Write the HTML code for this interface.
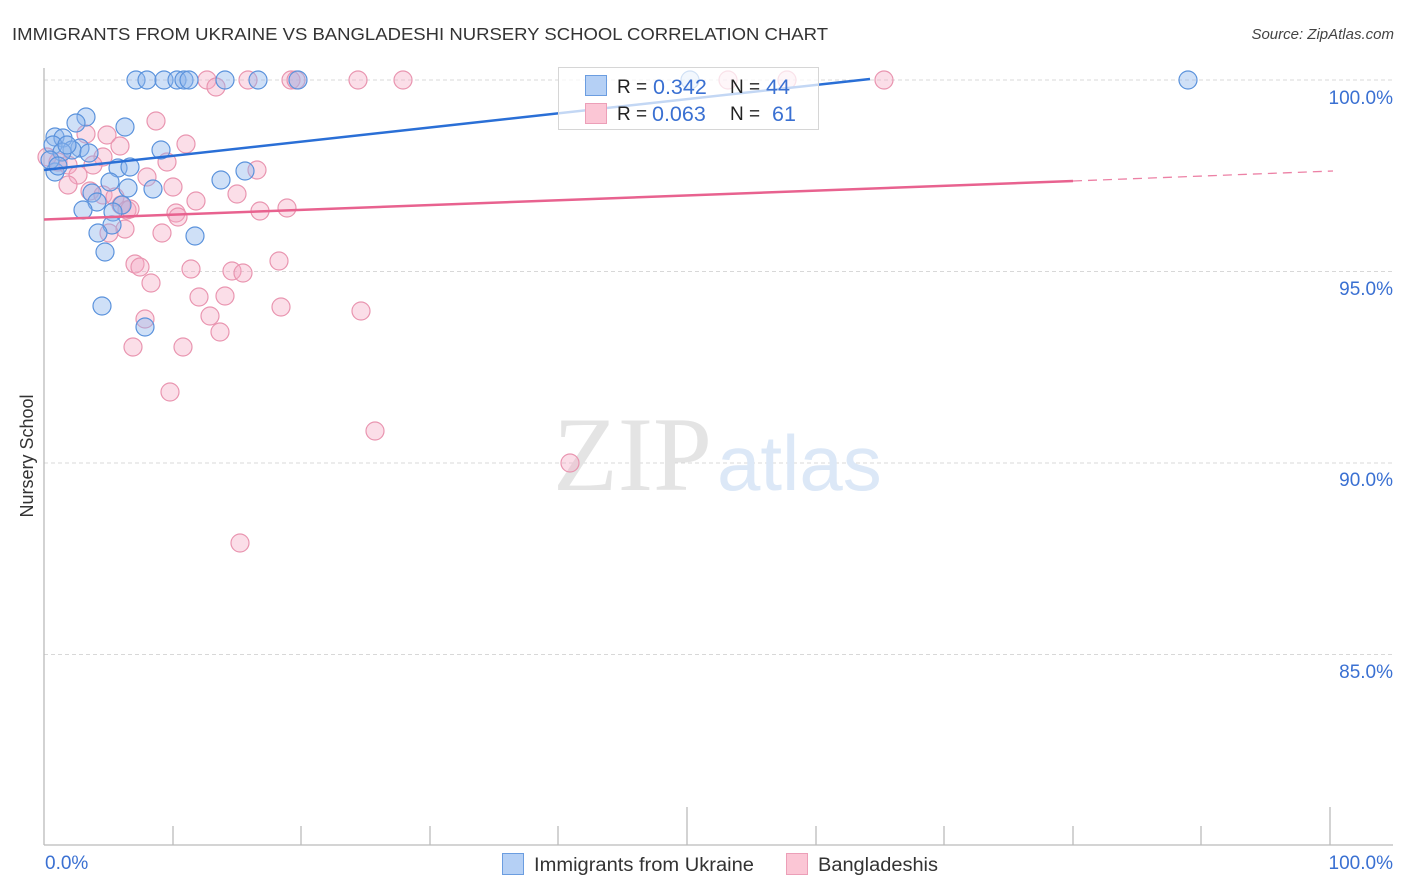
<!DOCTYPE html>
<html><head><meta charset="utf-8"><style>
html,body{margin:0;padding:0;background:#fff;}
svg{display:block;font-family:"Liberation Sans",sans-serif;}
</style></head><body>
<svg width="1406" height="892" viewBox="0 0 1406 892" xmlns="http://www.w3.org/2000/svg">
<rect width="1406" height="892" fill="#fff"/>
<text x="12" y="40" font-size="17.5" fill="#333" textLength="816" lengthAdjust="spacingAndGlyphs">IMMIGRANTS FROM UKRAINE VS BANGLADESHI NURSERY SCHOOL CORRELATION CHART</text>
<text x="1394" y="39" font-size="15" fill="#444" font-style="italic" text-anchor="end">Source: ZipAtlas.com</text>

<!-- gridlines -->
<g stroke="#d8d8d8" stroke-width="1" stroke-dasharray="4,3">
<line x1="44" y1="80" x2="1393" y2="80"/>
<line x1="44" y1="271.5" x2="1393" y2="271.5"/>
<line x1="44" y1="463" x2="1393" y2="463"/>
<line x1="44" y1="654.5" x2="1393" y2="654.5"/>
</g>

<!-- watermark -->
<text x="553" y="490" font-family="Liberation Serif,serif" font-size="106" fill="#e4e4e4">ZIP</text>
<text x="717" y="490" font-size="78" fill="#dce8f7">atlas</text>

<!-- axes -->
<g stroke="#bbb" stroke-width="1.3">
<line x1="44" y1="68" x2="44" y2="845"/>
<line x1="44" y1="845" x2="1393" y2="845"/>
<line x1="173" y1="826" x2="173" y2="845"/>
<line x1="301" y1="826" x2="301" y2="845"/>
<line x1="430" y1="826" x2="430" y2="845"/>
<line x1="558" y1="826" x2="558" y2="845"/>
<line x1="687" y1="807" x2="687" y2="845"/>
<line x1="816" y1="826" x2="816" y2="845"/>
<line x1="944" y1="826" x2="944" y2="845"/>
<line x1="1073" y1="826" x2="1073" y2="845"/>
<line x1="1201" y1="826" x2="1201" y2="845"/>
<line x1="1330" y1="807" x2="1330" y2="845"/>
</g>

<!-- tick labels -->
<g font-size="19" fill="#3a70d2" text-anchor="end">
<text x="1393" y="104">100.0%</text>
<text x="1393" y="295">95.0%</text>
<text x="1393" y="486">90.0%</text>
<text x="1393" y="678">85.0%</text>
<text x="1393" y="869">100.0%</text>
</g>
<text x="45" y="869" font-size="19" fill="#3a70d2">0.0%</text>
<text x="0" y="0" font-size="18" fill="#333" text-anchor="middle" transform="translate(33,456) rotate(-90)">Nursery School</text>

<!-- pink points -->
<g fill="rgba(245,168,194,0.38)" stroke="#e995b0" stroke-width="1.2">
<circle cx="207" cy="80" r="9"/><circle cx="216" cy="87" r="9"/><circle cx="248" cy="80" r="9"/><circle cx="291" cy="80" r="9"/><circle cx="296" cy="80" r="9"/><circle cx="358" cy="80" r="9"/><circle cx="403" cy="80" r="9"/><circle cx="728" cy="80" r="9"/><circle cx="787" cy="80" r="9"/><circle cx="884" cy="80" r="9"/>
<circle cx="156" cy="121" r="9"/><circle cx="86" cy="134" r="9"/><circle cx="107" cy="135" r="9"/><circle cx="120" cy="146" r="9"/><circle cx="186" cy="144" r="9"/><circle cx="47" cy="157" r="9"/><circle cx="58" cy="162" r="9"/><circle cx="103" cy="157" r="9"/><circle cx="68" cy="165" r="9"/><circle cx="93" cy="165" r="9"/><circle cx="78" cy="175" r="9"/><circle cx="147" cy="177" r="9"/><circle cx="167" cy="162" r="9"/><circle cx="257" cy="170" r="9"/><circle cx="68" cy="185" r="9"/><circle cx="173" cy="187" r="9"/><circle cx="237" cy="194" r="9"/><circle cx="90" cy="191" r="9"/><circle cx="103" cy="195" r="9"/><circle cx="115" cy="197" r="9"/><circle cx="196" cy="201" r="9"/><circle cx="121" cy="205" r="9"/><circle cx="127" cy="210" r="9"/><circle cx="130" cy="209" r="9"/><circle cx="260" cy="211" r="9"/><circle cx="287" cy="208" r="9"/><circle cx="176" cy="213" r="9"/><circle cx="178" cy="217" r="9"/><circle cx="125" cy="229" r="9"/><circle cx="109" cy="233" r="9"/><circle cx="162" cy="233" r="9"/><circle cx="135" cy="264" r="9"/><circle cx="140" cy="267" r="9"/><circle cx="191" cy="269" r="9"/><circle cx="279" cy="261" r="9"/><circle cx="232" cy="271" r="9"/><circle cx="243" cy="273" r="9"/><circle cx="151" cy="283" r="9"/><circle cx="199" cy="297" r="9"/><circle cx="225" cy="296" r="9"/><circle cx="281" cy="307" r="9"/><circle cx="361" cy="311" r="9"/><circle cx="210" cy="316" r="9"/><circle cx="145" cy="319" r="9"/><circle cx="220" cy="332" r="9"/><circle cx="133" cy="347" r="9"/><circle cx="183" cy="347" r="9"/><circle cx="170" cy="392" r="9"/><circle cx="375" cy="431" r="9"/><circle cx="570" cy="463" r="9"/><circle cx="240" cy="543" r="9"/>
</g>

<!-- blue points -->
<g fill="rgba(140,180,235,0.42)" stroke="#5a92dc" stroke-width="1.2">
<circle cx="136" cy="80" r="9"/><circle cx="147" cy="80" r="9"/><circle cx="164" cy="80" r="9"/><circle cx="177" cy="80" r="9"/><circle cx="184" cy="80" r="9"/><circle cx="189" cy="80" r="9"/><circle cx="225" cy="80" r="9"/><circle cx="258" cy="80" r="9"/><circle cx="298" cy="80" r="9"/><circle cx="690" cy="80" r="9"/><circle cx="1188" cy="80" r="9"/>
<circle cx="86" cy="117" r="9"/><circle cx="76" cy="123" r="9"/><circle cx="125" cy="127" r="9"/><circle cx="55" cy="137" r="9"/><circle cx="63" cy="138" r="9"/><circle cx="53" cy="145" r="9"/><circle cx="80" cy="148" r="9"/><circle cx="72" cy="150" r="9"/><circle cx="62" cy="152" r="9"/><circle cx="89" cy="153" r="9"/><circle cx="161" cy="150" r="9"/><circle cx="55" cy="172" r="9"/><circle cx="118" cy="168" r="9"/><circle cx="130" cy="167" r="9"/><circle cx="245" cy="171" r="9"/><circle cx="221" cy="180" r="9"/><circle cx="110" cy="182" r="9"/><circle cx="128" cy="188" r="9"/><circle cx="153" cy="189" r="9"/><circle cx="92" cy="193" r="9"/><circle cx="97" cy="202" r="9"/><circle cx="83" cy="210" r="9"/><circle cx="122" cy="205" r="9"/><circle cx="113" cy="212" r="9"/><circle cx="112" cy="225" r="9"/><circle cx="98" cy="233" r="9"/><circle cx="195" cy="236" r="9"/><circle cx="105" cy="252" r="9"/><circle cx="102" cy="306" r="9"/><circle cx="145" cy="327" r="9"/><circle cx="50" cy="160" r="9"/><circle cx="67" cy="145" r="9"/><circle cx="58" cy="166" r="9"/>
</g>

<!-- trend lines -->
<line x1="44" y1="219.5" x2="1073" y2="181" stroke="#e8628f" stroke-width="2.5"/>
<line x1="1073" y1="181" x2="1333" y2="171" stroke="#e8628f" stroke-width="1.3" stroke-dasharray="9,6" opacity="0.8"/>
<line x1="44" y1="170" x2="870" y2="79" stroke="#2a6fd6" stroke-width="2.5"/>

<!-- top legend -->
<rect x="558.5" y="67.5" width="260" height="62" fill="rgba(255,255,255,0.72)" stroke="#d6d6d6" stroke-width="1"/>
<rect x="585.5" y="75.5" width="21" height="20" fill="#b5d0f5" stroke="#6b9de0" stroke-width="1"/>
<rect x="585.5" y="103.5" width="21" height="20" fill="#fbc6d5" stroke="#ec9fb8" stroke-width="1"/>
<g font-size="19" fill="#222">
<text x="617" y="93">R =</text>
<text x="730" y="93">N =</text>
<text x="617" y="120">R =</text>
<text x="730" y="120">N =</text>
</g>
<g font-size="21.5" fill="#3a70d2">
<text x="653" y="94">0.342</text>
<text x="766" y="94">44</text>
<text x="652" y="121">0.063</text>
<text x="772" y="121">61</text>
</g>

<!-- bottom legend -->
<rect x="502.5" y="853.5" width="21" height="21" fill="#b5d0f5" stroke="#6b9de0" stroke-width="1"/>
<text x="534" y="871" font-size="19" fill="#333" textLength="220" lengthAdjust="spacingAndGlyphs">Immigrants from Ukraine</text>
<rect x="786.5" y="853.5" width="21" height="21" fill="#fbc6d5" stroke="#ec9fb8" stroke-width="1"/>
<text x="818" y="871" font-size="19" fill="#333" textLength="120" lengthAdjust="spacingAndGlyphs">Bangladeshis</text>
</svg>
</body></html>
